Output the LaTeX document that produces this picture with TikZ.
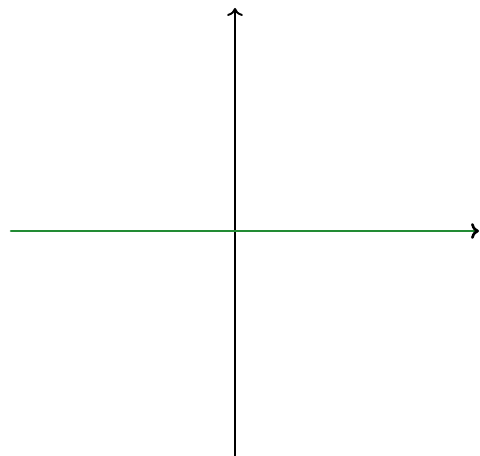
\documentclass[tikz,border=0pt]{standalone}
\usetikzlibrary{arrows.meta}
\definecolor{axisgreen}{RGB}{34,139,52}
\begin{document}
\begin{tikzpicture}[line cap=round,line join=round,>=To]
  \useasboundingbox (-4.70,-4.50) rectangle (4.90,4.62);
  \coordinate (O) at (0,0);
  \coordinate (ybot) at (0,-4.50);
  \coordinate (ytop) at (0,4.46);
  \coordinate (xleft) at (-4.48,0);
  \coordinate (xright) at (4.88,0);
  \draw[line width=1.1pt,-{To[length=4.5pt,width=9pt]}] (ybot) -- (ytop);
  \draw[line width=1.5pt,axisgreen,-{To[black,length=4.5pt,width=9pt]}] (xleft) -- (xright);
\end{tikzpicture}
\end{document}
